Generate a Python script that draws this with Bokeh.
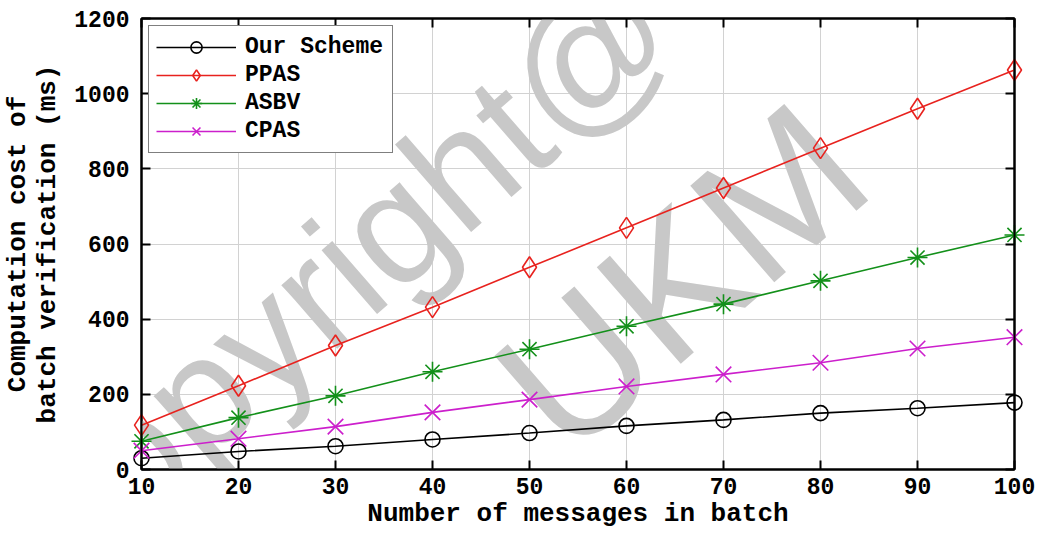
from bokeh.plotting import figure
from bokeh.models import LinearAxis, FixedTicker, Range1d, Label, Legend
from bokeh.embed import file_html
from bokeh.resources import INLINE

# Batch sizes (number of messages) and verification cost (ms) per scheme
batch_sizes = [10, 20, 30, 40, 50, 60, 70, 80, 90, 100]
our_scheme = [30, 48, 62, 80, 97, 116, 132, 150, 163, 178]
ppas = [118, 223, 330, 432, 538, 643, 749, 855, 960, 1063]
asbv = [75, 138, 196, 260, 320, 381, 440, 502, 564, 624]
cpas = [50, 82, 114, 152, 186, 221, 253, 284, 322, 352]

x_ticks = [10, 20, 30, 40, 50, 60, 70, 80, 90, 100]
y_ticks = [0, 200, 400, 600, 800, 1000, 1200]

FONT = "Liberation Mono"
TOP = "annotation"

p = figure(width=1037, height=537, output_backend="svg", toolbar_location=None,
           x_range=Range1d(10, 100), y_range=Range1d(0, 1200),
           min_border_left=141, min_border_right=23, min_border_top=18,
           min_border_bottom=68)
p.background_fill_color = "white"
p.border_fill_color = "white"
p.outline_line_color = "black"
p.outline_line_width = 2

p.xgrid.ticker = FixedTicker(ticks=x_ticks)
p.ygrid.ticker = FixedTicker(ticks=y_ticks)
p.grid.grid_line_color = "#d2d2d2"
p.grid.grid_line_width = 1

# watermark text, drawn beneath the axes and the data
for txt, sx, sy, size in [("copyright@", 202, 200, "160px"), ("UKM", 540, 192, "186px")]:
    p.add_layout(Label(x=sx, y=sy, x_units="screen", y_units="screen", text=txt,
                       angle=41, angle_units="deg", text_font="Liberation Sans",
                       text_font_size=size, text_color="#c8c8c8",
                       text_align="center", text_baseline="middle", level="guide"))

# axes: inward ticks on all four sides
for ax in (p.xaxis[0], p.yaxis[0]):
    ax.level = TOP
    ax.major_tick_in = 9
    ax.major_tick_out = 0
    ax.minor_tick_line_color = None
    ax.axis_line_width = 2
    ax.major_tick_line_width = 2
    ax.major_label_text_font = FONT
    ax.major_label_text_font_style = "bold"
    ax.major_label_text_font_size = "23px"
    ax.major_label_text_color = "black"
    ax.axis_label_text_font = FONT
    ax.axis_label_text_font_style = "bold"
    ax.axis_label_text_font_size = "26px"
    ax.axis_label_text_color = "black"

p.xaxis.ticker = FixedTicker(ticks=x_ticks)
p.yaxis.ticker = FixedTicker(ticks=y_ticks)
p.xaxis.axis_label = "Number of messages in batch"
p.yaxis.axis_label = "Computation cost of\nbatch verification (ms)"
p.yaxis.axis_label_text_line_height = 1.0
p.xaxis.major_label_standoff = 8
p.xaxis.axis_label_standoff = 2
p.yaxis.major_label_standoff = 12
p.yaxis.axis_label_standoff = 8

# tick-only axes closing the box on the top and right
for place, ticks in (("right", y_ticks), ("above", x_ticks)):
    ax = LinearAxis(ticker=FixedTicker(ticks=ticks), major_tick_in=9, major_tick_out=0,
                    minor_tick_line_color=None, major_label_text_color=None,
                    axis_line_width=2, major_tick_line_width=2, major_label_standoff=0,
                    level=TOP)
    p.add_layout(ax, place)

series = [
    ("Our Scheme", our_scheme, "black", "circle", 15),
    ("PPAS", ppas, "#e8221e", "diamond", 21),
    ("ASBV", asbv, "#13901a", "asterisk", 20),
    ("CPAS", cpas, "#cc1fcc", "x", 22),
]

items = []
for name, vals, color, marker, size in series:
    ln = p.line(batch_sizes, vals, line_color=color, line_width=1.6, level=TOP)
    sc = p.scatter(batch_sizes, vals, marker=marker, size=size, line_color=color,
                   fill_color=None, line_width=1.6, level=TOP)
    items.append((name, [ln, sc]))

legend = Legend(items=items, location="top_left")
legend.label_text_font = FONT
legend.label_text_font_style = "bold"
legend.label_text_font_size = "23px"
legend.label_text_color = "black"
legend.glyph_width = 80
legend.glyph_height = 28
legend.label_standoff = 9
legend.label_width = 140
legend.padding = 7
legend.spacing = -1
legend.margin = 7
legend.border_line_color = "black"
legend.border_line_width = 1.5
legend.background_fill_color = "white"
legend.background_fill_alpha = 1
p.add_layout(legend, "center")

open("out.html", "w").write(file_html(p, INLINE))
